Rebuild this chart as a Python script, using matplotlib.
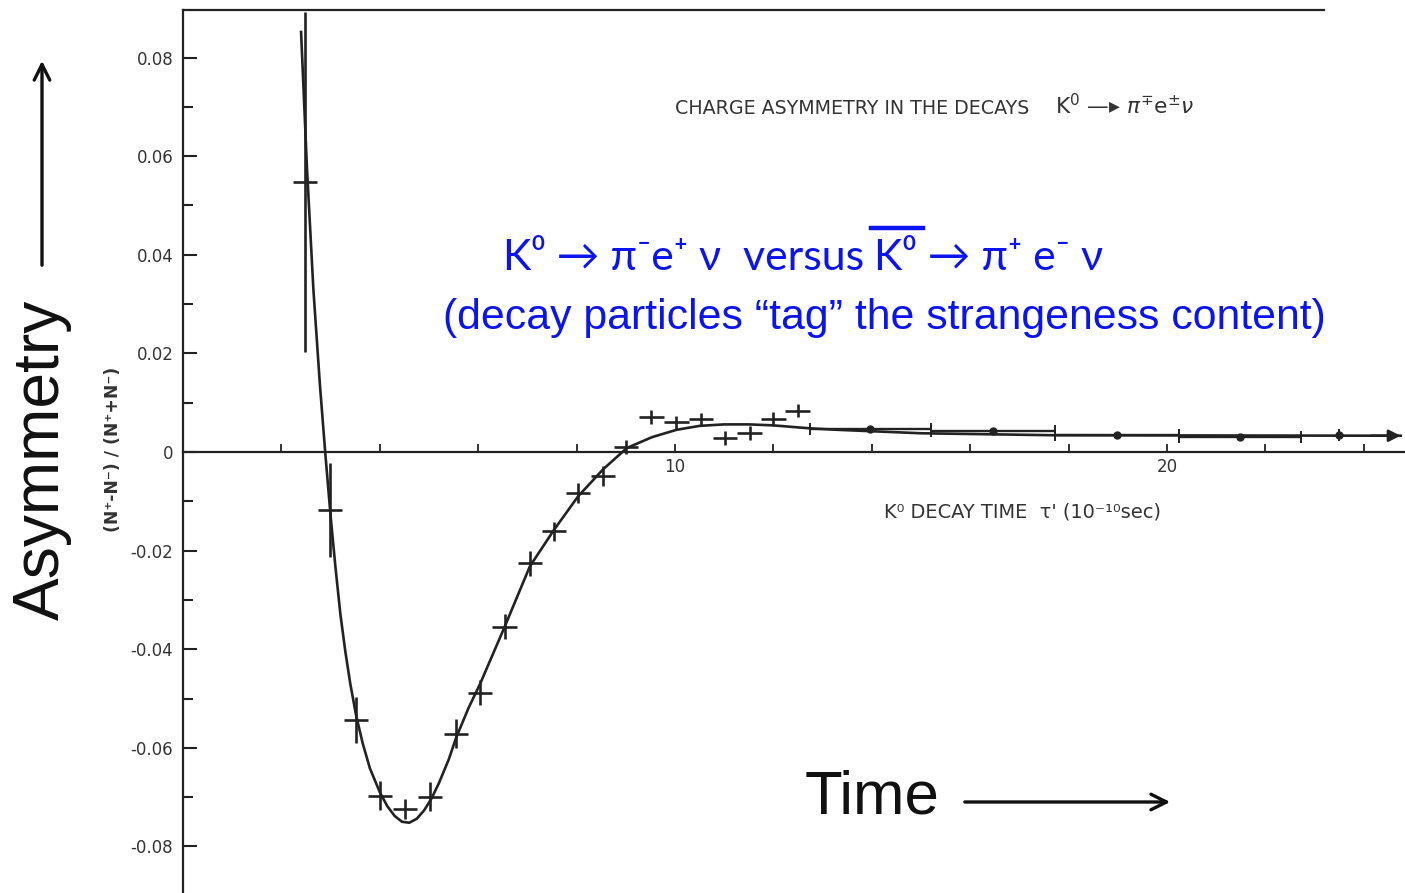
import matplotlib
matplotlib.use("Agg")
import matplotlib.pyplot as plt
from matplotlib.ticker import MultipleLocator, FixedLocator, FuncFormatter, NullFormatter
from matplotlib.lines import Line2D
from matplotlib.patches import FancyArrowPatch

# ---------------- data ----------------
t_points = [2.48, 2.99, 3.52, 4.00, 4.51, 5.02, 5.55, 6.04, 6.54, 7.05, 7.54,
            8.03, 8.54, 9.00, 9.52, 10.03, 10.53, 11.02, 11.52, 12.00, 12.49]
asym_points = [0.0547, -0.0118, -0.0543, -0.0697, -0.0724, -0.0699, -0.0571,
               -0.0488, -0.0354, -0.0226, -0.0161, -0.0083, -0.0049, 0.0010,
               0.0071, 0.0060, 0.0066, 0.0028, 0.0038, 0.0067, 0.0084]
asym_err = [0.0345, 0.0095, 0.0047, 0.0030, 0.0020, 0.0030, 0.0030, 0.0025,
            0.0025, 0.0025, 0.0020, 0.0020, 0.0020, 0.0015, 0.0014, 0.0014,
            0.0014, 0.0014, 0.0014, 0.0014, 0.0014]
t_err = [0.25, 0.25, 0.25, 0.25, 0.25, 0.25, 0.25, 0.25, 0.25, 0.25, 0.25,
         0.25, 0.25, 0.25, 0.25, 0.25, 0.25, 0.25, 0.25, 0.25, 0.25]

# wide-bin points at late times
t_bins = [13.97, 16.46, 18.98, 21.48, 23.50]
asym_bins = [0.0047, 0.0043, 0.0035, 0.0030, 0.0035]
t_bin_err = [1.23, 1.26, 1.26, 1.24, 0.0]

# fitted curve
curve_t = [2.40, 2.52, 2.65, 2.78, 2.89, 3.00, 3.10, 3.20, 3.30, 3.40, 3.52,
           3.65, 3.80, 4.00, 4.15, 4.30, 4.45, 4.60, 4.75, 4.90, 5.05, 5.20,
           5.40, 5.55, 5.80, 6.04, 6.54, 7.05, 7.54, 8.03, 8.54, 9.02, 9.53,
           10.03, 10.50, 11.00, 11.50, 12.00, 12.74, 13.30, 15.00, 17.70, 24.75]
curve_a = [0.0852, 0.0575, 0.0330, 0.0140, 0.0000, -0.0130, -0.0235, -0.0330,
           -0.0405, -0.0470, -0.0535, -0.0590, -0.0642, -0.0690, -0.0718,
           -0.0738, -0.0750, -0.0752, -0.0744, -0.0727, -0.0703, -0.0672,
           -0.0624, -0.0580, -0.0520, -0.0470, -0.0354, -0.0232, -0.0158,
           -0.0090, -0.0035, 0.0008, 0.0030, 0.0045, 0.0053, 0.0056, 0.0056,
           0.0054, 0.0048, 0.0045, 0.0038, 0.0034, 0.0033]

y_ticks = [-0.08, -0.06, -0.04, -0.02, 0.0, 0.02, 0.04, 0.06, 0.08]
x_label_ticks = [10, 20]

title_text = "CHARGE ASYMMETRY IN THE DECAYS"
title_reaction = "K$^{0}$ \u2014\u25b8 $\\pi^{\\mp}\\mathrm{e}^{\\pm}\\nu$"
xlabel_text = "K\u2070 DECAY TIME  \u03c4' (10\u207b\u00b9\u2070sec)"
ylabel_text = "(N\u207a-N\u207b) / (N\u207a+N\u207b)"
blue_a = "K\u2070 \u2192 \u03c0\u207be\u207a \u03bd  versus"
blue_b = "K\u2070 \u2192 \u03c0\u207a e\u207b \u03bd"
blue_line2 = "(decay particles \u201ctag\u201d the strangeness content)"

# ---------------- figure ----------------
W, H = 1405, 893
fig = plt.figure(figsize=(W / 100, H / 100), dpi=100)
fig.patch.set_facecolor("white")

ink = "#222222"
ax = fig.add_axes([183 / W, 0, 1 - 183 / W, 883 / H])
ax.set_xlim(0, (W - 183) / 49.2)
ax.set_ylim(-441 / 4930, 442 / 4930)
ax.set_facecolor("none")

ax.spines["right"].set_visible(False)
ax.spines["bottom"].set_position(("data", 0))
ax.spines["top"].set_bounds(0, 23.2)
for s in ["left", "bottom", "top"]:
    ax.spines[s].set_color(ink)
    ax.spines[s].set_linewidth(1.6)

# y ticks
ax.yaxis.set_major_locator(FixedLocator(y_ticks))
ax.yaxis.set_minor_locator(MultipleLocator(0.01))
ax.yaxis.set_major_formatter(FuncFormatter(lambda v, p: "0" if abs(v) < 1e-9 else f"{v:.2f}"))
ax.tick_params(axis="y", which="major", direction="in", length=10, width=1.5,
               color=ink, pad=7, labelsize=12, labelcolor="#333333")
ax.tick_params(axis="y", which="minor", direction="in", length=7, width=1.5, color=ink)

# x ticks
ax.xaxis.set_major_locator(FixedLocator(x_label_ticks))
ax.xaxis.set_minor_locator(MultipleLocator(2))
ax.xaxis.set_minor_formatter(NullFormatter())
ax.tick_params(axis="x", which="both", direction="in", length=6, width=1.3,
               color=ink, pad=4, labelsize=12, labelcolor="#333333", top=False)

# curve
ax.plot(curve_t, curve_a, color=ink, lw=1.9, zorder=3, solid_joinstyle="round")
ax.annotate("", xy=(curve_t[-1], curve_a[-1]), xytext=(curve_t[-1] - 0.6, curve_a[-1]),
            arrowprops=dict(arrowstyle="-|>", color=ink, lw=1.8, mutation_scale=18,
                            shrinkA=0, shrinkB=0), zorder=4)

# data points
ax.errorbar(t_points, asym_points, yerr=asym_err, xerr=t_err, fmt="none",
            ecolor=ink, elinewidth=1.9, capsize=0, zorder=4)
ax.errorbar(t_bins, asym_bins, xerr=t_bin_err, fmt="o", ms=5, color=ink,
            ecolor=ink, elinewidth=1.7, capsize=4, capthick=1.4, zorder=4)

# ---------------- texts ----------------
def fx(px):
    return px / W

def fy(py):
    return 1 - py / H

fig.canvas.draw()
renderer = fig.canvas.get_renderer()

def fit(t, length_px, vertical=False):
    bb = t.get_window_extent(renderer)
    cur = bb.height if vertical else bb.width
    t.set_fontsize(t.get_fontsize() * length_px / cur)

t1 = fig.text(fx(675), fy(108), title_text, ha="left", va="center", fontsize=12,
              color="#333333", family="DejaVu Sans")
fit(t1, 353)
t2 = fig.text(fx(1055), fy(106), title_reaction, ha="left", va="center", fontsize=12,
              color="#333333", family="DejaVu Sans")
fit(t2, 140)
t3 = fig.text(fx(884), fy(512), xlabel_text, ha="left", va="center", fontsize=12,
              color="#333333", family="DejaVu Sans")
fit(t3, 276)
t4 = fig.text(fx(113), fy(449), ylabel_text, ha="center", va="center", fontsize=10,
              rotation=90, color="#333333", family="DejaVu Sans", weight="bold")
fit(t4, 165, vertical=True)

blue = "#0a14f0"
fam = ["Lato", "DejaVu Sans"]
ba = fig.text(fx(503), fy(258), blue_a, ha="left", va="center", fontsize=28,
              color=blue, family=fam)
fit(ba, 362)
bbx = fig.text(fx(874), fy(258), blue_b, ha="left", va="center", fontsize=ba.get_fontsize(),
               color=blue, family=fam)
fig.add_artist(Line2D([fx(871), fx(923)], [fy(228), fy(228)], color=blue, lw=3.2))
b2 = fig.text(fx(443), fy(318), blue_line2, ha="left", va="center", fontsize=30,
              color=blue, family="Liberation Sans")
fit(b2, 880)

ta = fig.text(fx(42), fy(460), "Asymmetry", ha="center", va="center", rotation=90,
              fontsize=46, color="#111111", family="Liberation Sans")
fit(ta, 320, vertical=True)
fig.add_artist(FancyArrowPatch((fx(42), fy(268)), (fx(42), fy(58)),
               transform=fig.transFigure, arrowstyle="->", mutation_scale=28,
               lw=2.4, color="#111111"))

tt = fig.text(fx(872), fy(798), "Time", ha="center", va="center", fontsize=44,
              color="#111111", family="Liberation Sans")
fit(tt, 135)
fig.add_artist(FancyArrowPatch((fx(962), fy(802)), (fx(1173), fy(802)),
               transform=fig.transFigure, arrowstyle="->", mutation_scale=28,
               lw=2.4, color="#111111"))

fig.savefig("out.png", dpi=100, facecolor="white")
